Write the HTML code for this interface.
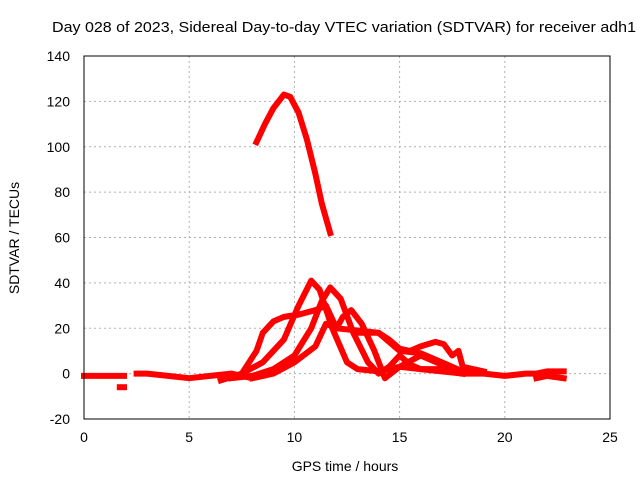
<!DOCTYPE html>
<html><head><meta charset="utf-8"><style>
body{margin:0;background:#fff}
svg{display:block;font-family:"Liberation Sans",sans-serif}
</style></head><body>
<svg id="chart" width="640" height="480" viewBox="0 0 640 480">
<text x="344" y="32" font-size="15" textLength="584" lengthAdjust="spacingAndGlyphs" text-anchor="middle">Day 028 of 2023, Sidereal Day-to-day VTEC variation (SDTVAR) for receiver adh1</text>
<text x="345" y="471" font-size="14" text-anchor="middle">GPS time / hours</text>
<text transform="translate(19,238) rotate(-90)" font-size="14" text-anchor="middle">SDTVAR / TECUs</text>
<g id="grid"></g>
<g id="ticks"></g>
<g id="series"></g>
<rect x="84" y="56" width="526" height="363" fill="none" stroke="#000" stroke-width="1"/>
</svg>
<script>
const xTicks=[0,5,10,15,20,25];
const yTicks=[-20,0,20,40,60,80,100,120,140];
const arcHours=[8.2,8.6,9.0,9.5,9.8,10.2,10.6,11.0,11.3,11.7];
const arcValues=[102,110,117,123,122,115,103,88,75,62];
const s2Hours=[6.5,7.5,8.5,9.5,10.2,10.8,11.2,11.8,12.5,13,14,15,16,17,18];
const s2Values=[-3,0,5,15,30,41,37,20,5,2,1,3,2,1,0];
const s3Hours=[7,8,9,10,10.8,11.3,11.7,12.2,12.8,13.5,14,14.5,15,15.5,16,17,18];
const s3Values=[-2,-1,2,8,20,32,38,33,18,5,0,3,8,4,2,2,0];
const s4Hours=[8,9,10,11,11.5,12,12.3,12.7,13.2,13.8,14.3,15,16,17,18];
const s4Values=[-2,0,5,12,22,20,25,28,22,10,-2,3,8,4,1];
const s5Hours=[7.5,8.2,8.5,9,9.5,10.2,11,11.5,12,13,14,14.5,15,16,17,18];
const s5Values=[0,10,18,23,25,26,28,30,20,19,18,14,10,9,5,1];
const s6Hours=[13,14,14.5,15,15.5,16,16.7,17.1,17.5,17.8,18,19];
const s6Values=[18,18,15,11,10,12,14,13,8,10,3,1];
const b1Hours=[0,0.5,1,1.5,1.9];
const b1Values=[-1,-1,-1,-1,-1];
const b2Hours=[1.7,1.9];
const b2Values=[-6,-6];
const b3Hours=[2.5,3,4,5,6,7,7.5,8,8.5];
const b3Values=[0,0,-1,-2,-1,0,-1,-2,-1];
const b4Hours=[18,19,20,21,21.5,22,22.8];
const b4Values=[0,0,-1,0,0,1,1];
const b5Hours=[21.5,22,22.8];
const b5Values=[-2,-1,-2];
const X=h=>84+h*526/25;
const Y=v=>419-(v+20)*363/160;
const ns="http://www.w3.org/2000/svg";
const grid=document.getElementById('grid'),ticks=document.getElementById('ticks'),ser=document.getElementById('series');
function mk(tag,at,parent){const e=document.createElementNS(ns,tag);for(const k in at)e.setAttribute(k,at[k]);parent.appendChild(e);return e;}
xTicks.forEach(t=>{
 if(t>0&&t<25){const g=mk('line',{x1:X(t),x2:X(t),y1:56,y2:419,stroke:'#b0b0b0','stroke-dasharray':'2,3'},grid);
 
 }
 const l=mk('text',{x:X(t),y:442,'font-size':14,'text-anchor':'middle'},ticks);l.textContent=t;
 
 
});
yTicks.forEach(t=>{
 if(t>-20&&t<140){const g=mk('line',{x1:84,x2:610,y1:Y(t),y2:Y(t),stroke:'#b0b0b0','stroke-dasharray':'2,3'},grid);
 
 }
 const l=mk('text',{x:70,y:Y(t)+5,'font-size':14,'text-anchor':'end'},ticks);l.textContent=t;
 
 
});
const all=[[arcHours,arcValues],[s2Hours,s2Values],[s3Hours,s3Values],[s4Hours,s4Values],[s5Hours,s5Values],[s6Hours,s6Values],[b1Hours,b1Values],[b2Hours,b2Values],[b3Hours,b3Values],[b4Hours,b4Values],[b5Hours,b5Values]];
all.forEach((s,i)=>{
 const pts=s[0].map((h,j)=>X(h).toFixed(1)+','+Y(s[1][j]).toFixed(1)).join(' ');
 const p=mk('polyline',{points:pts,fill:'none',stroke:'#ff0000','stroke-width':6,'stroke-linejoin':'round','stroke-linecap':'square'},ser);
 
 
});
</script>
</body></html>
